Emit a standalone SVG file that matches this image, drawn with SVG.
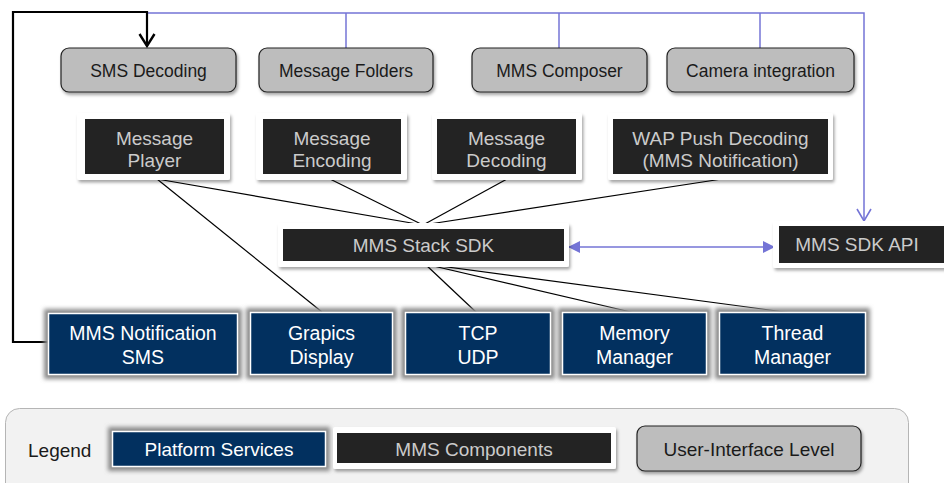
<svg xmlns="http://www.w3.org/2000/svg" width="944" height="483" viewBox="0 0 944 483">
<defs>
<filter id="sh" x="-10%" y="-20%" width="125%" height="150%">
<feDropShadow dx="1.5" dy="2.5" stdDeviation="1.8" flood-color="#000" flood-opacity="0.35"/>
</filter>
<filter id="glow" x="-10%" y="-20%" width="120%" height="140%">
<feGaussianBlur stdDeviation="2"/>
</filter>
<marker id="vBlack" markerWidth="18" markerHeight="18" refX="15" refY="9" orient="auto" markerUnits="userSpaceOnUse" viewBox="0 0 18 18">
<path d="M3,1.5 L15,9 L3,16.5" fill="none" stroke="#000" stroke-width="2.4"/>
</marker>
<marker id="vPurple" markerWidth="16" markerHeight="16" refX="14" refY="8" orient="auto" markerUnits="userSpaceOnUse" viewBox="0 0 16 16">
<path d="M2,1 L14,8 L2,15" fill="none" stroke="#7474d6" stroke-width="1.6"/>
</marker>
<marker id="triP" markerWidth="12" markerHeight="12" refX="11" refY="6" orient="auto-start-reverse" markerUnits="userSpaceOnUse" viewBox="0 0 12 12">
<path d="M0,0 L12,6 L0,12 Z" fill="#7474d6"/>
</marker>
</defs>
<style>
.ui{fill:#bdbdbd;stroke:#222;stroke-width:1.2}
.uit{font-family:"Liberation Sans",Arial,sans-serif;font-size:17.5px;fill:#1a1a1a;text-anchor:middle}
.cw{fill:#fff}
.cd{fill:#232323}
.ct{font-family:"Liberation Sans",Arial,sans-serif;font-size:19px;fill:#cbcbcb;text-anchor:middle}
.pg{fill:#8a8a8a}
.pb{fill:#02305f;stroke:#fff;stroke-width:1.5}
.pt{font-family:"Liberation Sans",Arial,sans-serif;font-size:19.5px;fill:#fff;text-anchor:middle}
.ln{fill:none;stroke:#000;stroke-width:1.2}
.pl{fill:none;stroke:#7474d6;stroke-width:1.5}
</style>

<g id="connectors">
<polyline class="pl" points="147,13 864,13 864,221" marker-end="url(#vPurple)"/>
<line class="pl" x1="346" y1="13" x2="346" y2="48"/>
<line class="pl" x1="559" y1="13" x2="559" y2="48"/>
<line class="pl" x1="760" y1="13" x2="760" y2="48"/>
<polyline fill="none" stroke="#000" stroke-width="2.2" points="48,342 13,342 13,12 147,12 147,46" marker-end="url(#vBlack)"/>
<line class="pl" x1="569" y1="247" x2="774" y2="247" marker-start="url(#triP)" marker-end="url(#triP)"/>
<line class="ln" x1="157" y1="179" x2="423" y2="225"/>
<line class="ln" x1="330" y1="179" x2="423" y2="225"/>
<line class="ln" x1="507" y1="179" x2="423" y2="225"/>
<line class="ln" x1="722" y1="179" x2="423" y2="225"/>
<line class="ln" x1="157" y1="179" x2="322" y2="312"/>
<line class="ln" x1="425" y1="264" x2="477" y2="313"/>
<line class="ln" x1="425" y1="264" x2="635" y2="313"/>
<line class="ln" x1="425" y1="264" x2="792" y2="313"/>
</g>

<g id="sms-decoding"><rect class="ui" x="61" y="48" width="175" height="44" rx="8" filter="url(#sh)"/><text class="uit" x="148.5" y="77">SMS Decoding</text></g>
<g id="message-folders"><rect class="ui" x="259" y="48" width="174" height="44" rx="8" filter="url(#sh)"/><text class="uit" x="346" y="77">Message Folders</text></g>
<g id="mms-composer"><rect class="ui" x="472" y="48" width="175" height="44" rx="8" filter="url(#sh)"/><text class="uit" x="559.5" y="77">MMS Composer</text></g>
<g id="camera-integration"><rect class="ui" x="667" y="48" width="187" height="44" rx="8" filter="url(#sh)"/><text class="uit" x="760.5" y="77">Camera integration</text></g>

<g id="message-player"><rect class="cw" x="77" y="113" width="153" height="67" rx="2" filter="url(#sh)"/><rect class="cd" x="85" y="119" width="139" height="55"/><text class="ct" x="154.5" y="145">Message</text><text class="ct" x="154.5" y="167">Player</text></g>
<g id="message-encoding"><rect class="cw" x="256" y="113" width="151" height="67" rx="2" filter="url(#sh)"/><rect class="cd" x="263" y="119" width="138" height="55"/><text class="ct" x="332" y="145">Message</text><text class="ct" x="332" y="167">Encoding</text></g>
<g id="message-decoding"><rect class="cw" x="432" y="113" width="150" height="67" rx="2" filter="url(#sh)"/><rect class="cd" x="437" y="119" width="139" height="55"/><text class="ct" x="506.5" y="145">Message</text><text class="ct" x="506.5" y="167">Decoding</text></g>
<g id="wap-push-decoding"><rect class="cw" x="608" y="113" width="225" height="67" rx="2" filter="url(#sh)"/><rect class="cd" x="613" y="119" width="215" height="55"/><text class="ct" x="720.5" y="145">WAP Push Decoding</text><text class="ct" x="720.5" y="167">(MMS Notification)</text></g>

<g id="mms-stack-sdk"><rect class="cw" x="278" y="223" width="291" height="44" rx="2" filter="url(#sh)"/><rect class="cd" x="283" y="229" width="281" height="32"/><text class="ct" x="423.5" y="252">MMS Stack SDK</text></g>
<g id="mms-sdk-api"><rect class="cw" x="773" y="221" width="175" height="47" rx="2" filter="url(#sh)"/><rect class="cd" x="779" y="226" width="170" height="37"/><text class="ct" x="857" y="251">MMS SDK API</text></g>

<g id="mms-notification-sms"><rect class="pg" x="44" y="309" width="198" height="70" filter="url(#glow)"/><rect class="pb" x="48.5" y="313.5" width="189" height="61"/><text class="pt" x="143" y="340">MMS Notification</text><text class="pt" x="143" y="364">SMS</text></g>
<g id="grapics-display"><rect class="pg" x="246" y="308" width="151" height="71" filter="url(#glow)"/><rect class="pb" x="250.5" y="312.5" width="142" height="62"/><text class="pt" x="321.5" y="340">Grapics</text><text class="pt" x="321.5" y="364">Display</text></g>
<g id="tcp-udp"><rect class="pg" x="401" y="308" width="154" height="71" filter="url(#glow)"/><rect class="pb" x="405.5" y="312.5" width="145" height="62"/><text class="pt" x="478" y="340">TCP</text><text class="pt" x="478" y="364">UDP</text></g>
<g id="memory-manager"><rect class="pg" x="558" y="308" width="153" height="71" filter="url(#glow)"/><rect class="pb" x="562.5" y="312.5" width="144" height="62"/><text class="pt" x="634.5" y="340">Memory</text><text class="pt" x="634.5" y="364">Manager</text></g>
<g id="thread-manager"><rect class="pg" x="715" y="308" width="155" height="71" filter="url(#glow)"/><rect class="pb" x="719.5" y="312.5" width="146" height="62"/><text class="pt" x="792.5" y="340">Thread</text><text class="pt" x="792.5" y="364">Manager</text></g>

<g id="legend">
<rect x="5.5" y="408.5" width="903" height="92" rx="14" fill="#f2f2f2" stroke="#b5b5b5" stroke-width="1"/>
<text x="28" y="457" font-family="'Liberation Sans',Arial,sans-serif" font-size="19" fill="#1a1a1a">Legend</text>
<g id="legend-platform"><rect class="pg" x="108" y="427" width="222" height="44" filter="url(#glow)"/><rect class="pb" x="112.5" y="431.5" width="213" height="35"/><text class="pt" x="219" y="456" style="font-size:19px">Platform Services</text></g>
<g id="legend-mms"><rect class="cw" x="333" y="427" width="283" height="42" rx="2" filter="url(#sh)"/><rect class="cd" x="337" y="433" width="274" height="30"/><text class="ct" x="474" y="456">MMS Components</text></g>
<g id="legend-ui"><rect class="ui" x="637" y="426" width="224" height="45" rx="8" filter="url(#sh)"/><text class="uit" x="749" y="456" style="font-size:19px">User-Interface Level</text></g>
</g>
</svg>
